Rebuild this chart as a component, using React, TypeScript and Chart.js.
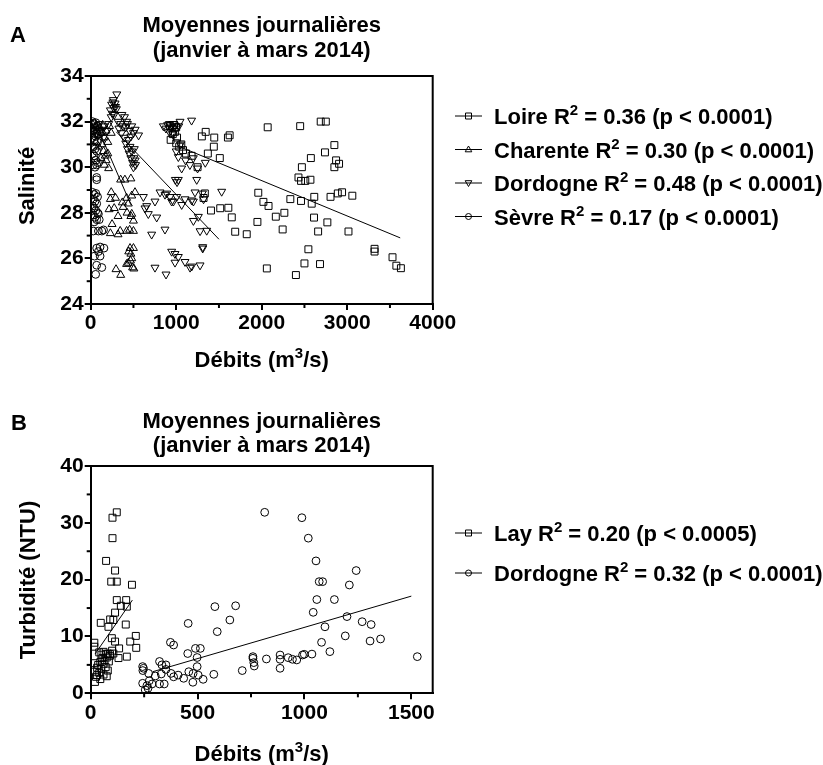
import React, { useEffect, useRef } from "react";
import { Chart, registerables } from "chart.js";

Chart.register(...registerables);

const FONT = "'Liberation Sans', Arial, Helvetica, sans-serif";

type P = [number, number];

// ---------------- Panel A : Salinité vs Débits ----------------
const loireA: P[] = [
  [930, 31.8], [955, 31.7], [975, 31.85], [1000, 31.75], [985, 31.55], [960, 31.45], [1010, 31.3], [935, 31.2],
  [1000, 31.05], [1060, 31.0], [1035, 30.9], [1080, 30.75], [1115, 30.6], [1180, 30.5], [1250, 30.0], [1300, 31.35],
  [1345, 31.55], [1445, 31.3], [1440, 30.9], [1370, 30.6], [1510, 30.4], [1605, 31.3], [1625, 31.4],
  [1320, 28.65], [1335, 28.85], [1407, 28.1], [1515, 28.2], [1610, 28.22], [1650, 27.8], [1690, 27.17], [1825, 27.06],
  [1960, 28.88], [2020, 28.48], [2080, 28.3], [2165, 27.83], [1950, 27.6], [2070, 31.75], [2060, 25.56], [2245, 27.27],
  [2265, 28.0], [2335, 28.6], [2450, 31.8], [2690, 32.0], [2750, 32.0], [2740, 30.65], [2850, 30.97], [2575, 30.4],
  [2470, 30.0], [2430, 29.55], [2460, 29.4], [2510, 29.4], [2570, 29.45], [2870, 30.3], [2905, 30.15], [2850, 30.0],
  [2460, 28.52], [2585, 28.4], [2615, 28.7], [2805, 28.7], [2890, 28.85], [2940, 28.9], [3060, 28.75], [2612, 27.79],
  [2660, 27.18], [2768, 27.58], [3015, 27.18], [2546, 26.4], [2400, 25.27], [2500, 25.78], [2682, 25.75],
  [3320, 26.42], [3320, 26.3], [3530, 26.05], [3575, 25.68], [3628, 25.57],
];
const charenteA: P[] = [
  [20, 31.9], [40, 31.6], [60, 31.8], [80, 31.4], [100, 31.7], [120, 31.5], [140, 31.85], [160, 31.3], [180, 31.6],
  [200, 31.1], [220, 31.8], [240, 31.5], [60, 31.1], [90, 30.9], [130, 31.0], [150, 30.7], [170, 30.5], [180, 30.3],
  [200, 30.6], [120, 30.4], [210, 29.95], [160, 30.1], [350, 29.45], [400, 29.45], [470, 29.5],
  [230, 28.6], [290, 28.65], [215, 28.15], [275, 28.2], [320, 27.85], [250, 27.5], [345, 27.2], [230, 27.1],
  [320, 27.05], [240, 28.9], [370, 28.45], [420, 28.65], [480, 28.75], [518, 28.9], [380, 28.25], [425, 28.0],
  [470, 27.85], [500, 27.65], [420, 27.2], [455, 27.25], [500, 27.2], [480, 27.95], [440, 28.4],
  [296, 25.52], [351, 25.27], [440, 25.8], [465, 25.9], [445, 26.3], [460, 26.45], [500, 26.45], [490, 25.6],
  [505, 25.55], [420, 25.75], [470, 26.2], [480, 26.0],
];
const dordogneA: P[] = [
  [230, 32.5], [245, 32.75], [260, 32.85], [270, 32.6], [285, 32.8], [255, 32.35], [300, 32.55], [305, 33.2],
  [240, 32.2], [275, 32.3], [290, 32.65], [265, 32.95],
  [40, 31.8], [70, 31.5], [100, 31.9], [130, 31.6], [160, 31.8], [190, 31.6], [210, 31.9], [150, 31.3],
  [320, 32.0], [350, 31.9], [380, 31.8], [410, 31.75], [430, 31.9], [455, 31.6], [480, 31.8], [500, 31.5],
  [520, 31.65], [560, 31.4], [330, 31.7], [360, 31.5], [390, 31.3], [410, 31.05], [430, 30.8], [450, 30.6],
  [470, 30.4], [490, 30.2], [500, 30.0], [525, 30.1], [480, 30.7], [440, 31.2], [460, 30.9], [505, 30.4],
  [365, 32.3], [395, 32.2], [420, 32.0], [470, 31.35], [510, 30.8], [520, 30.3],
  [850, 31.8], [880, 31.7], [900, 31.85], [920, 31.9], [940, 31.75], [960, 31.9], [980, 31.8], [1000, 31.7],
  [1045, 32.0], [1180, 32.05], [920, 31.55], [960, 31.45], [1030, 31.8],
  [1000, 30.7], [1025, 30.45], [1064, 29.95], [990, 29.45], [1010, 29.35], [1025, 29.45], [1240, 29.45],
  [1250, 29.95], [1160, 30.1], [1340, 30.2], [1050, 31.0], [1200, 30.4], [1110, 30.3],
  [616, 28.7], [635, 28.2], [655, 28.3], [674, 27.95], [752, 28.5], [772, 27.8], [811, 28.9], [869, 28.8],
  [889, 28.85], [928, 28.7], [947, 28.5], [967, 28.5], [1006, 28.7], [1064, 28.35], [1103, 28.6], [1181, 28.55],
  [1201, 28.5], [1220, 28.9], [1306, 28.85], [1320, 28.6], [1532, 28.93], [713, 27.05], [869, 27.27],
  [1201, 27.65], [1259, 27.83], [1279, 27.2], [1357, 27.22],
  [752, 25.6], [881, 25.3], [947, 26.3], [986, 26.2], [1025, 26.07], [986, 25.82], [1103, 25.85], [1162, 25.6],
  [1181, 25.65], [1279, 25.7], [1310, 26.44], [1310, 26.5],
];
const sevreA: P[] = [
  [20, 32.0], [40, 31.9], [60, 31.95], [80, 31.8], [30, 31.6], [50, 31.7], [70, 31.5], [90, 31.6], [20, 31.3],
  [40, 31.2], [60, 31.35], [80, 31.1], [30, 30.9], [50, 30.8], [70, 30.7], [20, 30.6], [40, 30.5], [60, 30.3],
  [80, 30.2], [30, 30.1], [50, 30.0], [70, 30.1], [70, 29.55], [70, 29.45],
  [20, 28.9], [40, 28.8], [60, 28.85], [80, 28.7], [30, 28.6], [50, 28.5], [70, 28.4], [20, 28.3], [40, 28.2],
  [60, 28.1], [80, 28.0], [30, 27.9], [50, 27.8], [70, 27.7], [100, 27.7], [90, 27.95], [40, 27.6],
  [30, 27.2], [90, 27.2], [130, 27.2], [150, 27.25],
  [70, 26.45], [110, 26.5], [155, 26.45], [45, 26.1], [110, 26.1], [90, 26.3], [70, 25.7], [130, 25.6], [58, 25.3],
];
const loireFitA: P[] = [[1040, 30.9], [3620, 26.9]];
const charenteFitA: P[] = [[120, 31.4], [470, 28.35]];
const dordogneFitA: P[] = [[300, 31.55], [1500, 26.84]];
const xTicksA = [0, 1000, 2000, 3000, 4000];
const xMinorA = [500, 1500, 2500, 3500];
const yTicksA = [24, 26, 28, 30, 32, 34];
const yMinorA = [25, 27, 29, 31, 33];
const legendNamesA = ["Loire", "Charente", "Dordogne", "Sèvre"];
const legendR2A = ["0.36", "0.30", "0.48", "0.17"];
const legendPA = ["p < 0.0001", "p < 0.0001", "p < 0.0001", "p < 0.0001"];

// ---------------- Panel B : Turbidité vs Débits ----------------
const layB: P[] = [
  [122, 31.85], [102, 30.9], [102, 27.3], [72, 23.3], [114, 21.6], [96, 19.65], [122, 19.65], [193, 19.1],
  [122, 16.4], [166, 16.4], [169, 15.25], [141, 15.4], [114, 14.2], [91, 13.0], [106, 12.9], [47, 12.4],
  [83, 11.7], [164, 12.1], [211, 10.1], [213, 8.0], [185, 9.1], [99, 9.7], [114, 9.1], [17, 8.9], [17, 8.2],
  [133, 7.9], [106, 7.0], [130, 6.2], [169, 6.45],
  [40, 7.2], [50, 6.8], [60, 7.3], [70, 6.9], [80, 7.0], [90, 6.6], [55, 6.2], [65, 5.8], [75, 6.3], [45, 5.5],
  [85, 5.6], [35, 5.0], [60, 5.2], [20, 5.3], [30, 4.5], [50, 4.3], [70, 4.6], [20, 3.8], [40, 3.6], [60, 3.3],
  [80, 4.0], [25, 2.9], [45, 2.5], [20, 2.0], [75, 3.0], [30, 3.2], [90, 6.9], [100, 7.5],
];
const dordogneB: P[] = [
  [814, 31.85], [988, 30.9], [1018, 27.3], [1054, 23.3], [1069, 19.65], [1085, 19.65], [1242, 21.6], [1210, 19.06],
  [1058, 16.5], [1140, 16.5], [1041, 14.25], [1199, 13.5], [1270, 12.6], [1312, 12.1], [1096, 11.7], [1191, 10.1],
  [1356, 9.56], [1307, 9.2], [1080, 8.97], [1119, 7.33], [1528, 6.45], [1035, 6.9], [999, 6.86], [991, 6.74],
  [964, 5.87], [944, 5.98], [924, 6.27], [886, 6.74], [886, 5.98], [886, 4.4], [822, 6.04], [759, 6.45],
  [759, 6.16], [763, 5.4], [765, 4.8], [709, 4.0], [678, 15.4], [651, 12.9], [581, 15.25], [592, 10.85],
  [456, 12.3], [373, 8.97], [388, 8.5], [454, 7.0], [490, 7.9], [513, 7.9], [498, 6.3], [498, 4.7], [459, 3.8],
  [479, 3.5], [503, 3.2], [526, 2.46], [478, 1.94], [435, 2.64], [409, 3.2], [388, 2.9], [376, 3.5], [576, 3.34],
  [352, 4.2], [352, 5.0], [333, 5.0], [322, 5.6], [330, 3.4], [302, 3.05], [271, 3.5], [247, 4.4], [244, 4.0],
  [243, 4.7], [322, 1.64], [344, 1.64], [287, 1.64], [274, 2.2], [243, 1.76], [263, 1.35], [268, 0.88], [255, 0.6],
];
const layFitB: P[] = [[20, 6.9], [195, 16.4]];
const dordogneFitB: P[] = [[290, 3.8], [1500, 17.1]];
const xTicksB = [0, 500, 1000, 1500];
const xMinorB = [250, 750, 1250];
const yTicksB = [0, 10, 20, 30, 40];
const yMinorB = [5, 15, 25, 35];
const legendNamesB = ["Lay", "Dordogne"];
const legendR2B = ["0.20", "0.32"];
const legendPB = ["p < 0.0005", "p < 0.0001"];

// ---------------- helpers ----------------
type Part = [string, boolean];

function drawRich(ctx: CanvasRenderingContext2D, parts: Part[], x: number, y: number, size: number, align: "left" | "center") {
  const supSize = Math.round(size * 0.66);
  const fontFor = (sup: boolean) => `bold ${sup ? supSize : size}px ${FONT}`;
  let total = 0;
  for (const [t, sup] of parts) {
    ctx.font = fontFor(sup);
    total += ctx.measureText(t).width;
  }
  let cx = align === "center" ? x - total / 2 : x;
  ctx.textAlign = "left";
  ctx.textBaseline = "alphabetic";
  for (const [t, sup] of parts) {
    ctx.font = fontFor(sup);
    ctx.fillText(t, cx, sup ? y - size * 0.4 : y);
    cx += ctx.measureText(t).width;
  }
}

function drawMarker(ctx: CanvasRenderingContext2D, kind: string, cx: number, cy: number) {
  ctx.beginPath();
  if (kind === "rect") {
    ctx.rect(cx - 3, cy - 3, 6, 6);
  } else if (kind === "up") {
    ctx.moveTo(cx, cy - 3.5);
    ctx.lineTo(cx + 3.3, cy + 2.3);
    ctx.lineTo(cx - 3.3, cy + 2.3);
    ctx.closePath();
  } else if (kind === "down") {
    ctx.moveTo(cx, cy + 3.5);
    ctx.lineTo(cx + 3.3, cy - 2.3);
    ctx.lineTo(cx - 3.3, cy - 2.3);
    ctx.closePath();
  } else {
    ctx.arc(cx, cy, 3, 0, Math.PI * 2);
  }
  ctx.stroke();
}

const decorPlugin = {
  id: "decor",
  afterDraw(chart: any, _args: any, o: any) {
    const ctx: CanvasRenderingContext2D = chart.ctx;
    const a = chart.chartArea;
    const xs = chart.scales.x;
    const ys = chart.scales.y;
    ctx.save();
    ctx.fillStyle = "#000";
    ctx.strokeStyle = "#000";
    // frame (top & right)
    ctx.lineWidth = 2;
    ctx.beginPath();
    ctx.moveTo(a.left, a.top);
    ctx.lineTo(a.right, a.top);
    ctx.lineTo(a.right, a.bottom);
    ctx.stroke();
    // minor ticks
    for (const v of o.xMinor) {
      const px = xs.getPixelForValue(v);
      ctx.beginPath();
      ctx.moveTo(px, a.bottom);
      ctx.lineTo(px, a.bottom + 4);
      ctx.stroke();
    }
    for (const v of o.yMinor) {
      const py = ys.getPixelForValue(v);
      ctx.beginPath();
      ctx.moveTo(a.left, py);
      ctx.lineTo(a.left - 4, py);
      ctx.stroke();
    }
    // panel letter
    ctx.font = `bold 22px ${FONT}`;
    ctx.textAlign = "left";
    ctx.textBaseline = "alphabetic";
    ctx.fillText(o.letter, o.letterX, o.letterY);
    // title
    const cx = (a.left + a.right) / 2;
    ctx.font = `bold 22px ${FONT}`;
    ctx.textAlign = "center";
    ctx.fillText(o.title[0], cx, o.titleY[0]);
    ctx.fillText(o.title[1], cx, o.titleY[1]);
    // x title
    drawRich(ctx, [["Débits (m", false], ["3", true], ["/s)", false]], cx, o.xTitleY, 22, "center");
    // y title
    ctx.save();
    ctx.translate(o.yTitleX, o.yTitleCY);
    ctx.rotate(-Math.PI / 2);
    ctx.font = `bold 22px ${FONT}`;
    ctx.textAlign = "center";
    ctx.textBaseline = "alphabetic";
    ctx.fillText(o.yTitle, 0, 0);
    ctx.restore();
    // legend
    o.legend.names.forEach((name: string, i: number) => {
      const cy = o.legend.rows[i];
      ctx.lineWidth = 1;
      ctx.beginPath();
      ctx.moveTo(455, cy);
      ctx.lineTo(482, cy);
      ctx.stroke();
      drawMarker(ctx, o.legend.markers[i], 468.5, cy);
      drawRich(
        ctx,
        [[name + " R", false], ["2", true], [" = " + o.legend.r2[i] + " (" + o.legend.p[i] + ")", false]],
        494,
        cy + 8,
        22,
        "left"
      );
    });
    ctx.restore();
  },
};

function makeConfig(c: any): any {
  const styles: any = {
    rect: { pointStyle: "rect", pointRotation: 0, pointRadius: 4.9 },
    up: { pointStyle: "triangle", pointRotation: 0, pointRadius: 4.6 },
    down: { pointStyle: "triangle", pointRotation: 180, pointRadius: 4.6 },
    circle: { pointStyle: "circle", pointRotation: 0, pointRadius: 3.9 },
  };
  const datasets: any[] = c.series.map((s: any) => ({
    type: "scatter",
    data: s.data.map(([x, y]: P) => ({ x, y })),
    ...styles[s.marker],
    pointBorderWidth: 1,
    pointBorderColor: "#000",
    pointBackgroundColor: "rgba(0,0,0,0)",
    borderColor: "#000",
    backgroundColor: "rgba(0,0,0,0)",
    showLine: false,
  }));
  c.fits.forEach((f: P[]) =>
    datasets.push({
      type: "line",
      data: f.map(([x, y]) => ({ x, y })),
      borderColor: "#000",
      borderWidth: 1,
      pointRadius: 0,
      fill: false,
      tension: 0,
    })
  );
  const tickFont = { family: FONT, size: 21, weight: "bold" };
  return {
    type: "scatter",
    data: { datasets },
    plugins: [decorPlugin],
    options: {
      responsive: false,
      animation: false,
      devicePixelRatio: 1,
      layout: { padding: { left: 0, top: c.top, right: 823 - c.right, bottom: 0 } },
      plugins: {
        legend: { display: false },
        tooltip: { enabled: false },
        decor: c.decor,
      },
      scales: {
        x: {
          type: "linear",
          min: 0,
          max: c.xMax,
          afterBuildTicks: (s: any) => {
            s.ticks = c.xTicks.map((v: number) => ({ value: v }));
          },
          afterFit: (s: any) => {
            s.height = c.xAxisH;
          },
          ticks: { font: tickFont, color: "#000", padding: 1, maxRotation: 0, autoSkip: false, callback: (v: any) => String(v) },
          grid: { drawOnChartArea: false, drawTicks: true, tickLength: 6, color: "#000", lineWidth: 2 },
          border: { display: true, color: "#000", width: 2 },
        },
        y: {
          type: "linear",
          min: c.yMin,
          max: c.yMax,
          afterBuildTicks: (s: any) => {
            s.ticks = c.yTicks.map((v: number) => ({ value: v }));
          },
          afterFit: (s: any) => {
            s.width = c.left;
          },
          ticks: { font: tickFont, color: "#000", padding: 1, autoSkip: false, callback: (v: any) => String(v) },
          grid: { drawOnChartArea: false, drawTicks: true, tickLength: 6, color: "#000", lineWidth: 2 },
          border: { display: true, color: "#000", width: 2 },
        },
      },
    },
  };
}

const panelA = {
  height: 380,
  top: 76,
  left: 90.7,
  right: 432.7,
  xAxisH: 76,
  xMax: 4000,
  yMin: 24,
  yMax: 34,
  xTicks: xTicksA,
  yTicks: yTicksA,
  series: [
    { data: loireA, marker: "rect" },
    { data: charenteA, marker: "up" },
    { data: dordogneA, marker: "down" },
    { data: sevreA, marker: "circle" },
  ],
  fits: [loireFitA, charenteFitA, dordogneFitA],
  decor: {
    letter: "A",
    letterX: 10,
    letterY: 42,
    title: ["Moyennes journalières", "(janvier à mars 2014)"],
    titleY: [32, 56.5],
    xTitleY: 366.5,
    yTitle: "Salinité",
    yTitleX: 34,
    yTitleCY: 186,
    xMinor: xMinorA,
    yMinor: yMinorA,
    legend: {
      names: legendNamesA,
      r2: legendR2A,
      p: legendPA,
      markers: ["rect", "up", "down", "circle"],
      rows: [116, 149.5, 183, 216.5],
    },
  },
};

const panelB = {
  height: 385,
  top: 86,
  left: 90.7,
  right: 432.7,
  xAxisH: 71.7,
  xMax: 1600,
  yMin: 0,
  yMax: 40,
  xTicks: xTicksB,
  yTicks: yTicksB,
  series: [
    { data: layB, marker: "rect" },
    { data: dordogneB, marker: "circle" },
  ],
  fits: [layFitB, dordogneFitB],
  decor: {
    letter: "B",
    letterX: 11,
    letterY: 50,
    title: ["Moyennes journalières", "(janvier à mars 2014)"],
    titleY: [48.3, 71.7],
    xTitleY: 381,
    yTitle: "Turbidité (NTU)",
    yTitleX: 34.5,
    yTitleCY: 200,
    xMinor: xMinorB,
    yMinor: yMinorB,
    legend: {
      names: legendNamesB,
      r2: legendR2B,
      p: legendPB,
      markers: ["rect", "circle"],
      rows: [153, 193],
    },
  },
};

function Panel({ cfg, top }: { cfg: any; top: number }) {
  const ref = useRef<HTMLCanvasElement>(null);
  useEffect(() => {
    const chart = new Chart(ref.current as HTMLCanvasElement, makeConfig(cfg));
    return () => chart.destroy();
  }, [cfg]);
  return (
    <canvas
      ref={ref}
      width={823}
      height={cfg.height}
      style={{ position: "absolute", left: 0, top, width: 823, height: cfg.height }}
    />
  );
}

export default function App() {
  return (
    <div style={{ position: "absolute", left: 0, top: 0, width: 823, height: 765, background: "#fff", overflow: "hidden" }}>
      <Panel cfg={panelA} top={0} />
      <Panel cfg={panelB} top={380} />
    </div>
  );
}
